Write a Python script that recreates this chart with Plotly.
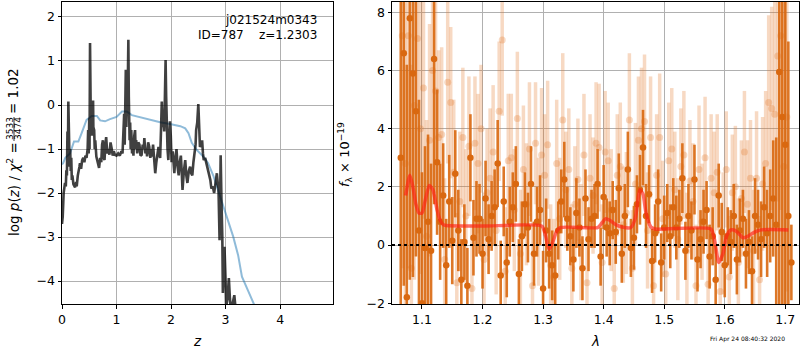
import plotly.graph_objects as go

# ---------------- left panel: p(z) ----------------
z_pz = [0.0, 0.013, 0.03, 0.045, 0.055, 0.07, 0.08, 0.09, 0.10, 0.108, 0.116, 0.123, 0.13, 0.14, 0.15, 0.16,
        0.17, 0.18, 0.19, 0.21, 0.24, 0.26, 0.27, 0.29, 0.30, 0.32, 0.33, 0.35, 0.37, 0.39, 0.41, 0.43,
        0.45, 0.47, 0.48, 0.49, 0.50, 0.505, 0.514, 0.522, 0.53, 0.54, 0.55, 0.56, 0.57, 0.575, 0.59, 0.60,
        0.61, 0.63, 0.65, 0.68, 0.70, 0.72, 0.735, 0.75, 0.765, 0.78, 0.795, 0.81, 0.83, 0.85, 0.87, 0.89,
        0.91, 0.93, 0.95, 0.97, 1.0, 1.03, 1.06, 1.09, 1.11, 1.13, 1.14, 1.15, 1.16, 1.17, 1.18, 1.19,
        1.20, 1.21, 1.217, 1.225, 1.23, 1.24, 1.25, 1.26, 1.27, 1.285, 1.30, 1.31, 1.325, 1.34, 1.35, 1.36,
        1.38, 1.40, 1.42, 1.44, 1.46, 1.48, 1.50, 1.51, 1.53, 1.55, 1.56, 1.58, 1.60, 1.62, 1.64, 1.65,
        1.67, 1.68, 1.70, 1.71, 1.73, 1.75, 1.77, 1.79, 1.80, 1.815, 1.83, 1.845, 1.86, 1.875, 1.89, 1.90,
        1.91, 1.92, 1.935, 1.95, 1.965, 1.98, 1.995, 2.01, 2.03, 2.045, 2.06, 2.08, 2.10, 2.12, 2.14, 2.16,
        2.18, 2.195, 2.21, 2.235, 2.26, 2.28, 2.30, 2.325, 2.35, 2.37, 2.39, 2.41, 2.43, 2.45, 2.46, 2.48,
        2.50, 2.515, 2.53, 2.55, 2.57, 2.585, 2.60, 2.625, 2.65, 2.675, 2.70, 2.72, 2.74, 2.765, 2.79, 2.81,
        2.84, 2.855, 2.87, 2.89, 2.91, 2.925, 2.94, 2.95, 2.965, 2.98, 3.0, 3.01, 3.035, 3.06, 3.08, 3.10,
        3.13, 3.16, 3.19, 3.25, 3.30]
lnp_pz = [-2.7, -2.54, -2.0, -1.9, -1.77, -1.85, -1.48, -1.6, -0.6, -1.3, 0.08, -0.9, -0.57, -1.4, -1.0, -1.5,
          -1.2, -1.7, -1.6, -1.8, -1.87, -1.75, -1.85, -1.6, -1.55, -1.4, -1.32, -1.45, -1.25, -1.2, -1.3, -1.15,
          -1.2, -1.0, -0.57, -1.1, -0.3, -1.0, 1.41, -0.2, -0.6, -0.2, -0.7, -0.1, 0.1, -0.5, -0.57, -1.0,
          -0.8, -1.17, -1.3, -1.43, -1.2, -1.3, -0.9, -0.8, -1.2, -1.25, -0.9, -0.73, -1.1, -1.0, -1.13, -0.85,
          -0.98, -1.15, -1.05, -1.13, -1.15, -1.1, -1.15, -1.05, -1.1, -0.5, -0.2, -0.9, 0.7, 0.8, -0.5, 0.2,
          -0.2, 0.4, 1.48, 0.2, -0.3, -0.8, -0.4, -1.0, -0.57, -1.1, -0.9, -1.15, -0.7, -0.57, -1.0, -0.8,
          -1.1, -0.85, -0.9, -1.15, -1.13, -0.9, -1.0, -0.75, -1.1, -1.0, -1.17, -0.85, -0.95, -1.2, -1.0, -1.17,
          -0.9, -1.05, -1.3, -1.55, -1.3, -1.1, -0.95, -1.15, -1.2, -0.6, 0.08, -0.5, -0.3, -0.6, 0.4, 1.02,
          0.2, -0.45, -1.0, -1.25, -0.8, -0.37, -0.7, -1.3, -1.05, -1.4, -1.55, -1.2, -1.0, -1.4, -1.6, -1.3,
          -1.15, -1.5, -1.93, -1.5, -1.25, -1.6, -1.77, -1.5, -1.4, -1.55, -1.6, -1.3, -1.1, -0.9, -0.57, -0.4,
          0.02, -0.5, -0.95, -0.9, -0.8, -1.1, -1.25, -1.2, -1.33, -1.4, -1.6, -1.7, -1.9, -1.85, -2.0, -1.8,
          -1.55, -1.75, -1.9, -3.07, -1.14, -2.2, -2.99, -4.27, -3.5, -3.22, -4.0, -4.6, -4.4, -3.93, -4.4, -4.7,
          -4.5, -4.32, -4.7, -5.5, -6.0]

z_prior = [0.0, 0.02, 0.06, 0.147, 0.22, 0.30, 0.36, 0.45, 0.545, 0.64, 0.70, 0.79, 0.88, 1.0, 1.1, 1.19,
           1.28, 1.43, 1.61, 1.80, 1.98, 2.17, 2.26, 2.32, 2.38, 2.47, 2.59, 2.68, 2.78, 2.90, 3.02, 3.14,
           3.23, 3.30, 3.42, 3.52, 3.60]
lnp_prior = [-1.35, -1.32, -1.2, -1.1, -0.83, -0.83, -0.64, -0.34, -0.25, -0.25, -0.35, -0.37, -0.32, -0.27, -0.15, -0.15,
             -0.23, -0.28, -0.34, -0.39, -0.43, -0.48, -0.53, -0.64, -0.86, -1.02, -1.17, -1.32, -1.62, -2.08, -2.54, -2.99,
             -3.41, -3.9, -4.24, -4.5, -4.75]

# ---------------- right panel: spectrum ----------------
lam_dark = [1.065, 1.070, 1.075, 1.080, 1.085, 1.090, 1.095, 1.100, 1.105, 1.110,
            1.115, 1.120, 1.125, 1.130, 1.135, 1.140, 1.145, 1.150, 1.155, 1.160,
            1.165, 1.170, 1.175, 1.180, 1.185, 1.190, 1.195, 1.200, 1.205, 1.210,
            1.215, 1.220, 1.225, 1.230, 1.235, 1.240, 1.245, 1.250, 1.255, 1.260,
            1.265, 1.270, 1.275, 1.280, 1.285, 1.290, 1.295, 1.300, 1.305, 1.310,
            1.315, 1.320, 1.325, 1.330, 1.335, 1.340, 1.345, 1.350, 1.355, 1.360,
            1.365, 1.370, 1.375, 1.380, 1.385, 1.390, 1.395, 1.400, 1.405, 1.410,
            1.415, 1.420, 1.425, 1.430, 1.435, 1.440, 1.445, 1.450, 1.455, 1.460,
            1.465, 1.470, 1.475, 1.480, 1.485, 1.490, 1.495, 1.500, 1.505, 1.510,
            1.515, 1.520, 1.525, 1.530, 1.535, 1.540, 1.545, 1.550, 1.555, 1.560,
            1.565, 1.570, 1.575, 1.580, 1.585, 1.590, 1.595, 1.600, 1.605, 1.610,
            1.615, 1.620, 1.625, 1.630, 1.635, 1.640, 1.645, 1.650, 1.655, 1.660,
            1.665, 1.670, 1.675, 1.680, 1.685, 1.690, 1.695, 1.700, 1.705, 1.710]
flux_dark = [3.0, 6.6, -1.8, 7.8, 5.9, 4.6, 0.5, -2.0, -0.1, 0.8,
             -0.2, 6.4, 2.85, 0.8, 1.7, -0.7, 1.5, 0.15, 2.45, 0.5,
             -1.2, 0.1, -1.4, 3.0, 0.25, 0.9, 0.9, -0.3, 1.6, 0.2,
             1.0, 1.3, 2.8, -1.05, 1.5, -0.6, 0.8, 1.3, 2.1, -1.0,
             0.3, 1.4, 0.6, 2.1, -0.3, 0.8, 1.2, -1.5, 0.5, -0.3,
             -0.7, -1.05, 0.5, 1.5, 2.25, 0.9, 0.3, -0.5, 1.1, 0.6,
             -0.8, 1.6, 0.2, 0.9, 1.0, 2.1, -0.4, 1.65, 0.6, 0.4,
             1.2, 0.45, 1.95, -0.3, 1.0, 2.6, -0.1, 0.25, 1.4, 1.9,
             3.35, 1.0, 1.75, -0.55, 0.4, 1.5, -0.6, 0.6, 1.1, 0.3,
             1.3, 0.6, 0.9, 2.3, -0.2, 1.0, 0.5, 2.25, -0.5, 0.2,
             0.8, 1.2, -0.4, 0.3, -1.2, 1.7, 0.45, -0.7, 0.3, 0.1,
             1.0, -0.5, 0.5, 0.9, -0.3, 0.1, -0.9, 1.0, 0.7, 0.2,
             1.3, 0.4, 1.0, 1.6, 0.7, 5.95, 4.4, 3.45, 1.0, -0.6]
err_dark = [9.0, 8.0, 8.0, 9.0, 7.0, 5.0, 4.5, 4.5, 3.5, 3.0,
            3.0, 5.0, 2.5, 2.0, 1.8, 1.6, 1.6, 1.5, 1.5, 1.4,
            1.4, 1.3, 1.3, 1.5, 1.3, 1.3, 1.2, 1.2, 1.3, 1.2,
            1.2, 1.3, 1.5, 1.2, 1.2, 1.2, 1.2, 1.2, 1.3, 1.2,
            1.2, 1.1, 1.2, 1.3, 1.1, 1.2, 1.2, 1.3, 1.1, 1.2,
            1.2, 1.1, 1.0, 1.1, 1.3, 1.1, 1.0, 1.1, 1.2, 1.0,
            1.1, 1.0, 1.1, 1.0, 1.1, 1.2, 1.0, 1.1, 1.0, 1.1,
            1.0, 1.1, 1.2, 1.0, 1.1, 1.3, 1.0, 1.1, 1.0, 1.2,
            1.3, 1.1, 1.0, 1.1, 1.0, 1.1, 1.0, 1.1, 1.0, 1.1,
            1.0, 1.1, 1.0, 1.2, 1.0, 1.1, 1.0, 1.2, 1.1, 1.0,
            1.1, 1.0, 1.1, 1.0, 1.2, 1.1, 1.0, 1.1, 1.0, 1.1,
            1.1, 1.2, 1.1, 1.0, 1.2, 1.1, 1.2, 1.3, 1.2, 1.3,
            1.4, 1.5, 1.6, 2.0, 3.0, 9.0, 9.0, 9.0, 6.0, 1.3]

lam_light = [1.0675, 1.0725, 1.0775, 1.0825, 1.0875, 1.0925, 1.0975, 1.1025, 1.1075, 1.1125,
             1.1175, 1.1225, 1.1275, 1.1325, 1.1375, 1.1425, 1.1475, 1.1525, 1.1575, 1.1625,
             1.1675, 1.1725, 1.1775, 1.1825, 1.1875, 1.1925, 1.1975, 1.2025, 1.2075, 1.2125,
             1.2175, 1.2225, 1.2275, 1.2325, 1.2375, 1.2425, 1.2475, 1.2525, 1.2575, 1.2625,
             1.2675, 1.2725, 1.2775, 1.2825, 1.2875, 1.2925, 1.2975, 1.3025, 1.3075, 1.3125,
             1.3175, 1.3225, 1.3275, 1.3325, 1.3375, 1.3425, 1.3475, 1.3525, 1.3575, 1.3625,
             1.3675, 1.3725, 1.3775, 1.3825, 1.3875, 1.3925, 1.3975, 1.4025, 1.4075, 1.4125,
             1.4175, 1.4225, 1.4275, 1.4325, 1.4375, 1.4425, 1.4475, 1.4525, 1.4575, 1.4625,
             1.4675, 1.4725, 1.4775, 1.4825, 1.4875, 1.4925, 1.4975, 1.5025, 1.5075, 1.5125,
             1.5175, 1.5225, 1.5275, 1.5325, 1.5375, 1.5425, 1.5475, 1.5525, 1.5575, 1.5625,
             1.5675, 1.5725, 1.5775, 1.5825, 1.5875, 1.5925, 1.5975, 1.6025, 1.6075, 1.6125,
             1.6175, 1.6225, 1.6275, 1.6325, 1.6375, 1.6425, 1.6475, 1.6525, 1.6575, 1.6625,
             1.6675, 1.6725, 1.6775, 1.6825, 1.6875, 1.6925, 1.6975, 1.7025]
flux_light = [7.2, 2.8, 7.2, -0.8, 4.8, 7.1, 4.0, 5.4, 0.3, 3.6,
              6.0, 5.3, 3.7, 3.8, -0.5, 5.6, 4.9, 2.5, -1.3, 1.5,
              3.7, 1.0, 3.4, -1.5, 3.5, 2.8, 4.0, -0.5, 1.8, 2.3,
              3.2, 0.5, 4.6, 7.05, -0.9, 2.9, 3.0, 1.2, 4.35, -0.3,
              2.6, 1.4, 3.3, -1.4, 3.5, 0.8, 3.1, 2.4, 3.45, -0.7,
              -1.1, 2.8, 0.9, 4.3, 1.9, 2.6, -0.8, 1.4, 2.25, 0.1,
              3.1, -1.3, 2.3, 1.7, 3.5, 3.35, -0.6, 3.2, 2.9, 1.2,
              -1.5, 2.4, 2.7, 0.7, 1.1, 4.3, -0.8, 2.1, 3.6, 4.0,
              4.25, 0.5, 3.7, -1.4, 2.4, 3.7, 0.9, -1.0, 2.9, 3.3,
              1.9, 0.2, 2.7, 3.1, -0.2, 2.2, 1.5, -1.4, 2.6, 0.8,
              3.0, -1.35, 2.3, 1.8, 2.5, -1.6, 0.4, 2.6, -1.1, 1.8,
              2.0, -0.6, 1.6, 3.2, 1.4, 2.3, -0.2, 2.3, -1.2, 2.1,
              2.8, 4.9, 4.7, 4.5, 6.5, 7.2, 2.7, 4.4]
err_light = [8.0, 8.0, 8.0, 7.0, 6.0, 5.0, 5.0, 4.5, 4.0, 4.0,
             4.0, 3.5, 3.0, 3.0, 2.8, 2.8, 2.6, 2.5, 2.4, 2.4,
             2.4, 2.3, 2.4, 2.2, 2.3, 2.4, 2.2, 2.3, 2.2, 2.4,
             2.3, 2.2, 2.4, 2.6, 2.2, 2.3, 2.2, 2.1, 2.3, 2.2,
             2.2, 2.1, 2.3, 2.2, 2.1, 2.2, 2.3, 2.1, 2.2, 2.1,
             2.0, 2.2, 2.1, 2.3, 2.0, 2.1, 2.2, 2.0, 2.1, 2.0,
             2.1, 2.0, 2.2, 2.0, 2.1, 2.2, 2.0, 2.1, 2.0, 2.1,
             2.0, 2.1, 2.2, 2.0, 2.1, 2.3, 2.0, 2.1, 2.2, 2.1,
             2.3, 2.0, 2.1, 2.0, 2.1, 2.2, 2.0, 2.1, 2.0, 2.1,
             2.0, 2.1, 2.0, 2.2, 2.0, 2.1, 2.0, 2.1, 2.2, 2.0,
             2.1, 2.0, 2.2, 2.1, 2.0, 2.2, 2.1, 2.0, 2.1, 2.0,
             2.1, 2.2, 2.0, 2.1, 2.2, 2.0, 2.1, 2.3, 2.2, 2.3,
             2.5, 3.0, 3.5, 4.0, 5.0, 6.0, 6.0, 6.0]

lam_model = [1.073, 1.080, 1.085, 1.090, 1.095, 1.100, 1.105, 1.112, 1.118, 1.125, 1.130, 1.135, 1.140,
             1.200, 1.298, 1.303, 1.310, 1.316, 1.322, 1.328, 1.390, 1.395, 1.403, 1.410, 1.420, 1.430,
             1.445, 1.452, 1.460, 1.465, 1.470, 1.478, 1.485, 1.577, 1.583, 1.590, 1.597, 1.603, 1.610,
             1.617, 1.625, 1.630, 1.638, 1.650, 1.660, 1.705]
flux_model = [1.7, 2.4, 2.0, 1.4, 1.1, 1.1, 1.5, 2.05, 1.9, 1.2, 0.85, 0.7, 0.67,
              0.65, 0.65, 0.4, -0.15, 0.1, 0.45, 0.6, 0.6, 0.7, 0.9, 0.85, 0.7, 0.62,
              0.6, 0.9, 1.9, 1.75, 1.1, 0.62, 0.55, 0.55, 0.2, -0.6, -0.3, 0.3, 0.52,
              0.5, 0.35, 0.25, 0.3, 0.45, 0.52, 0.52]

left_xticks = [0, 1, 2, 3, 4]
left_yticks = [-4, -3, -2, -1, 0, 1, 2]
right_xticks = [1.1, 1.2, 1.3, 1.4, 1.5, 1.6, 1.7]
right_yticks = [-2, 0, 2, 4, 6, 8]

W, H = 800, 350
def px(x):
    return x / W
def py(y):
    return (H - y) / H

ORANGE = "rgb(217,104,16)"
ORANGE_L = "rgba(226,120,40,0.28)"

fig = go.Figure()
fig.add_trace(go.Scatter(x=z_prior, y=lnp_prior, mode="lines", xaxis="x", yaxis="y",
                         line=dict(color="rgba(31,119,180,0.5)", width=2), showlegend=False))
fig.add_trace(go.Scatter(x=z_pz, y=lnp_pz, mode="lines", xaxis="x", yaxis="y",
                         line=dict(color="rgba(0,0,0,0.75)", width=2.6), showlegend=False))

fig.add_trace(go.Scatter(x=lam_light, y=flux_light, mode="markers", xaxis="x2", yaxis="y2",
                         marker=dict(color=ORANGE_L, size=7, line=dict(width=0)),
                         error_y=dict(type="data", array=err_light, color=ORANGE_L, thickness=3.5, width=0),
                         showlegend=False))
fig.add_trace(go.Scatter(x=lam_dark, y=flux_dark, mode="markers", xaxis="x2", yaxis="y2",
                         marker=dict(color=ORANGE, size=6.5, line=dict(width=0)),
                         error_y=dict(type="data", array=err_dark, color="rgba(217,104,16,0.9)", thickness=2.6, width=0),
                         showlegend=False))
fig.add_trace(go.Scatter(x=lam_model, y=flux_model, mode="lines", xaxis="x2", yaxis="y2",
                         line=dict(color="rgba(255,30,20,0.65)", width=3.5, shape="spline", smoothing=0.6),
                         showlegend=False))

ax_common = dict(showline=True, linecolor="black", linewidth=1, mirror=True, ticks="outside",
                 ticklen=3.5, tickcolor="black", showgrid=True, gridcolor="#b0b0b0", gridwidth=1,
                 zeroline=False, automargin=False, tickfont=dict(family="DejaVu Sans", size=12.5, color="black"))

fig.update_layout(
    width=W, height=H, margin=dict(l=0, r=0, t=0, b=0),
    paper_bgcolor="white", plot_bgcolor="white",
    font=dict(family="DejaVu Sans", color="black"),
    xaxis=dict(domain=[px(62), px(333)], range=[0, 4.97], tickvals=left_xticks, anchor="y", **ax_common),
    yaxis=dict(domain=[py(304), py(2)], range=[-4.52, 2.34], tickvals=left_yticks, anchor="x", **ax_common),
    xaxis2=dict(domain=[px(392), px(799)], range=[1.0505, 1.7226], tickvals=right_xticks, anchor="y2", **ax_common),
    yaxis2=dict(domain=[py(304), py(2)], range=[-2.03, 8.36], tickvals=right_yticks, anchor="x2", **ax_common),
)

fig.add_shape(type="line", xref="x2 domain", yref="y2", x0=0, x1=1, y0=0, y1=0,
              line=dict(color="black", width=2, dash="dot"), layer="above")

ann = []
ann.append(dict(x=px(319), y=py(20), xref="paper", yref="paper", text="j021524m0343", showarrow=False,
                xanchor="right", yanchor="middle", font=dict(size=12)))
ann.append(dict(x=px(319), y=py(35), xref="paper", yref="paper", text="ID=787\u00a0\u00a0\u00a0\u00a0z=1.2303",
                showarrow=False, xanchor="right", yanchor="middle", font=dict(size=12)))
ann.append(dict(x=px(197), y=py(341), xref="paper", yref="paper", text="<i>z</i>", showarrow=False,
                xanchor="center", yanchor="middle", font=dict(size=13.5)))
ann.append(dict(x=px(595), y=py(341), xref="paper", yref="paper", text="<i>λ</i>", showarrow=False,
                xanchor="center", yanchor="middle", font=dict(size=13.5)))
ann.append(dict(x=px(345), y=py(155), xref="paper", yref="paper", textangle=-90,
                text="<i>f</i><sub>λ</sub> × 10<sup>−19</sup>", showarrow=False,
                xanchor="center", yanchor="middle", font=dict(size=13)))
# left y title composed of pieces (stacked fraction)
ann.append(dict(x=px(13), y=py(238), xref="paper", yref="paper", textangle=-90,
                text="log <i>p</i>(<i>z</i>) / <i>χ</i><sup>2</sup> =", showarrow=False,
                xanchor="center", yanchor="bottom", font=dict(size=13.5)))
ann.append(dict(x=px(10), y=py(129), xref="paper", yref="paper", textangle=-90, text="3533",
                showarrow=False, xanchor="center", yanchor="middle", font=dict(size=9)))
ann.append(dict(x=px(18), y=py(129), xref="paper", yref="paper", textangle=-90, text="3474",
                showarrow=False, xanchor="center", yanchor="middle", font=dict(size=9)))
ann.append(dict(x=px(13), y=py(116), xref="paper", yref="paper", textangle=-90, text="= 1.02",
                showarrow=False, xanchor="center", yanchor="bottom", font=dict(size=13.5)))
ann.append(dict(x=px(787), y=py(339), xref="paper", yref="paper", text="Fri Apr 24 08:40:32 2020",
                showarrow=False, xanchor="right", yanchor="middle", font=dict(size=6)))
fig.update_layout(annotations=ann)
fig.add_shape(type="line", xref="paper", yref="paper", x0=px(14), x1=px(14), y0=py(117), y1=py(141),
              line=dict(color="black", width=0.8))

fig.write_html("out.html", config={"displayModeBar": False},
               post_script="document.body.style.margin='0px';document.body.style.padding='0px';")
